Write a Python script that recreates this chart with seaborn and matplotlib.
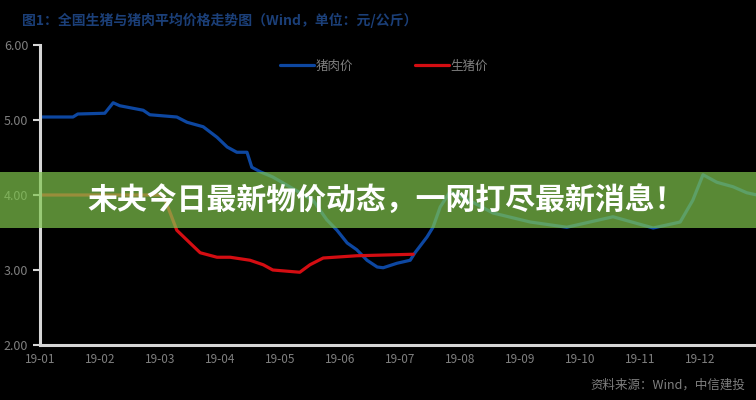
import matplotlib
matplotlib.use("Agg")
import matplotlib.pyplot as plt
from matplotlib.patches import Rectangle
import seaborn as sns
import pandas as pd

# 数据 (按月序号, 从图上估读)
blue_x = [0, 0.55, 0.63, 1.08, 1.22, 1.33, 1.72, 1.83, 2.28, 2.45, 2.72, 2.95, 3.12, 3.28,
          3.45, 3.53, 3.67, 3.88, 4.55, 4.78, 4.95, 5.12, 5.28, 5.45, 5.62, 5.72, 5.95, 6.17,
          6.25, 6.45, 6.55, 6.67, 6.83, 7.08, 7.55, 8.17, 8.78, 9.55, 10.22, 10.67, 10.88,
          11.05, 11.28, 11.55, 11.78, 11.95]
blue_y = [5.04, 5.04, 5.08, 5.09, 5.23, 5.19, 5.13, 5.07, 5.04, 4.97, 4.91, 4.77, 4.64, 4.57,
          4.57, 4.37, 4.31, 4.24, 3.93, 3.67, 3.53, 3.36, 3.27, 3.13, 3.04, 3.03, 3.09, 3.13,
          3.23, 3.44, 3.57, 3.84, 4.04, 3.96, 3.76, 3.64, 3.57, 3.71, 3.56, 3.64, 3.93,
          4.27, 4.17, 4.11, 4.03, 4.0]
red_x = [0, 2.05, 2.17, 2.28, 2.5, 2.67, 2.95, 3.17, 3.5, 3.72, 3.88, 4.33, 4.5, 4.72, 5.28, 6.22]
red_y = [4.0, 4.0, 3.76, 3.53, 3.36, 3.23, 3.17, 3.17, 3.13, 3.07, 3.0, 2.97, 3.07, 3.16, 3.19, 3.21]

x_labels = ["19-01", "19-02", "19-03", "19-04", "19-05", "19-06",
            "19-07", "19-08", "19-09", "19-10", "19-11", "19-12"]
y_ticks = [2.0, 3.0, 4.0, 5.0, 6.0]

blue_name = "猪肉价"
red_name = "生猪价"
title = "图1：全国生猪与猪肉平均价格走势图（Wind，单位：元/公斤）"
source = "资料来源：Wind，中信建投"
banner = "未央今日最新物价动态，一网打尽最新消息！"

sns.set_style("dark", {"axes.facecolor": "black", "figure.facecolor": "black"})
plt.rcParams['font.family'] = ['Noto Sans CJK SC', 'DejaVu Sans']
plt.rcParams['axes.unicode_minus'] = False

df_blue = pd.DataFrame({"x": blue_x, "y": blue_y})
df_red = pd.DataFrame({"x": red_x, "y": red_y})

fig = plt.figure(figsize=(7.56, 4.0), dpi=100, facecolor="black")
ax = fig.add_axes([40 / 756, 55 / 400, 1 - 40 / 756, 300 / 400])
ax.set_facecolor("black")

sns.lineplot(data=df_blue, x="x", y="y", ax=ax, color="#0d47a1", linewidth=2.3, label=blue_name)
sns.lineplot(data=df_red, x="x", y="y", ax=ax, color="#d40d12", linewidth=2.3, label=red_name)

ax.set_xlim(0, 716 / 60)
ax.set_ylim(2.0, 6.0)
ax.set_xticks(range(len(x_labels)))
ax.set_xticklabels(x_labels)
ax.set_yticks(y_ticks)
ax.set_yticklabels([f"{v:.2f}" for v in y_ticks])
ax.set_xlabel("")
ax.set_ylabel("")
ax.grid(False)
for s in ["top", "right"]:
    ax.spines[s].set_visible(False)
for s in ["left", "bottom"]:
    ax.spines[s].set_visible(True)
    ax.spines[s].set_color("#d6d6d6")
    ax.spines[s].set_linewidth(2.2)
ax.tick_params(axis="y", colors="#d6d6d6", labelcolor="#7f7f7f", length=5, width=1.5,
               labelsize=9, direction="out", left=True)
ax.tick_params(axis="x", colors="#d6d6d6", labelcolor="#7f7f7f", length=0,
               labelsize=8.5, pad=6)

leg = ax.get_legend()
leg.remove()
handles, labels = ax.get_legend_handles_labels()
fig.legend(handles, labels, loc="center", bbox_to_anchor=(384 / 756, 1 - 66 / 400), ncol=2,
           frameon=False, handlelength=2.7, handletextpad=0.1, columnspacing=5.0,
           fontsize=9, labelcolor="#7f7f7f")

fig.text(22 / 756, 1 - 20 / 400, title, color="#1b3f78", fontsize=10, fontweight="bold",
         ha="left", va="center")
fig.text(745 / 756, 1 - 385 / 400, source, color="#7f7f7f", fontsize=9,
         ha="right", va="center")

# 横幅
fig.add_artist(Rectangle((0, 1 - 228 / 400), 1, 56 / 400, transform=fig.transFigure,
                         facecolor="#80c54d", alpha=0.7, edgecolor="none", zorder=5))
fig.text(386 / 756, 1 - 200 / 400, banner, color="white", fontsize=21.5, fontweight="bold",
         ha="center", va="center", zorder=6)

fig.savefig("out.png", dpi=100, facecolor="black")
